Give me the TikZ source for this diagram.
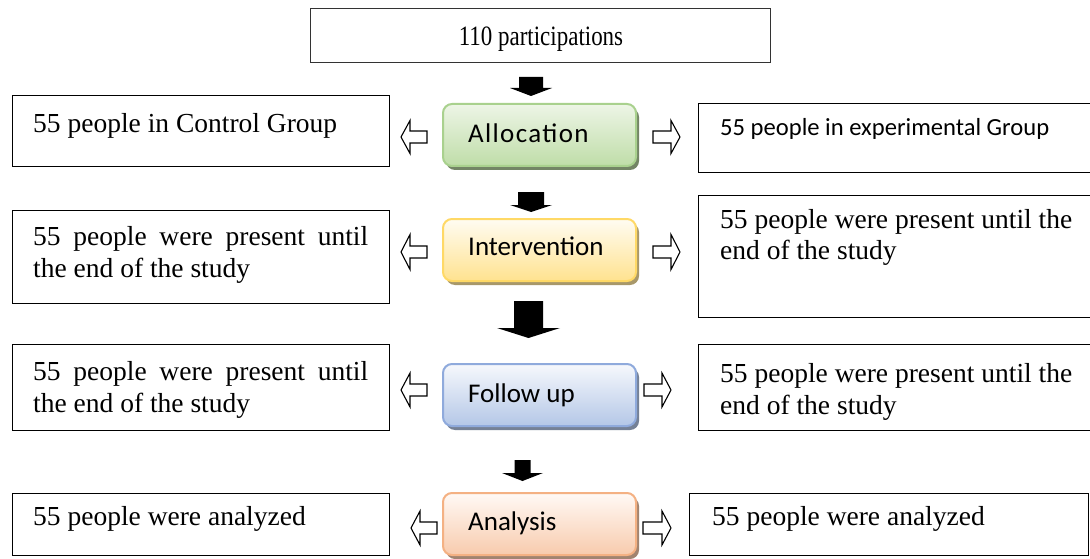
\documentclass[tikz,border=0pt]{standalone}
\usepackage{fontspec}
\setmainfont{Liberation Serif}
\newfontfamily\calfont{Carlito}
\newfontfamily\calwide[LetterSpace=5]{Carlito}
\usetikzlibrary{shadows}
\definecolor{gBorder}{HTML}{A9D18E}
\definecolor{gTop}{HTML}{EDF5E6}
\definecolor{gBot}{HTML}{BFDDA8}
\definecolor{yBorder}{HTML}{FFD966}
\definecolor{yTop}{HTML}{FFFCF2}
\definecolor{yBot}{HTML}{FFE28F}
\definecolor{bBorder}{HTML}{8FAADC}
\definecolor{bTop}{HTML}{F6F8FC}
\definecolor{bBot}{HTML}{B4C7E7}
\definecolor{oBorder}{HTML}{F4B183}
\definecolor{oTop}{HTML}{FFF9F5}
\definecolor{oBot}{HTML}{F8CBAD}
\newcommand{\downarr}[6]{%
  \fill[black] ({#1-#5},#2) -- ({#1+#5},#2) -- ({#1+#5},#3) -- ({#1+#6},#3) -- (#1,#4) -- ({#1-#6},#3) -- ({#1-#5},#3) -- cycle;}
\newcommand{\leftarr}[4]{%
  \draw[hollowarr] (#1,#3) -- ({#1+9},{#3-#4}) -- ({#1+9},{#3-6}) -- (#2,{#3-6}) -- (#2,{#3+6}) -- ({#1+9},{#3+6}) -- ({#1+9},{#3+#4}) -- cycle;}
\newcommand{\rightarr}[4]{%
  \draw[hollowarr] (#2,#3) -- ({#2-9},{#3-#4}) -- ({#2-9},{#3-6}) -- (#1,{#3-6}) -- (#1,{#3+6}) -- ({#2-9},{#3+6}) -- ({#2-9},{#3+#4}) -- cycle;}
\tikzset{
  sidebox/.style={draw=black, line width=1.3pt, inner sep=0pt, anchor=north west},
  topbox/.style={draw=black!80, line width=0.8pt, inner sep=0pt, anchor=north west},
  serif/.style={inner sep=0pt, anchor=base west, font=\fontsize{27.5}{32}\selectfont},
  sanslbl/.style={inner sep=0pt, anchor=base west, font=\calfont\fontsize{27}{32}\selectfont},
  cbox/.style={rounded corners=9pt, line width=2pt, inner sep=0pt, anchor=north west,
     minimum width=193pt, minimum height=62pt},
  hollowarr/.style={draw=black, fill=white, line width=1.1pt, line join=miter},
}
\begin{document}
\begin{tikzpicture}[x=1pt,y=-1pt]
\useasboundingbox[fill=white] (0,0) rectangle (1090,559);

% top
\node[topbox, minimum width=460pt, minimum height=54pt] (top) at (310,8) {};
\node[inner sep=0pt, anchor=base, font=\fontsize{28}{32}\selectfont] (topt) at (541,46) {\scalebox{0.82}[1]{110 participations}};

% centre boxes
\node[cbox, draw=gBorder, top color=gTop, bottom color=gBot,
  drop shadow={shadow xshift=3pt, shadow yshift=-4pt, fill=black!40!gBot, opacity=1}] (alloc) at (442,103) {};
\node[sanslbl, font=\calwide\fontsize{27}{32}\selectfont] (alloct) at (468,143) {Allocation};

\node[cbox, draw=yBorder, top color=yTop, bottom color=yBot,
  drop shadow={shadow xshift=3pt, shadow yshift=-4pt, fill=black!30!yBot!80!gray, opacity=1}] (interv) at (442,218) {};
\node[sanslbl] (intervt) at (468,255) {Intervention};

\node[cbox, draw=bBorder, top color=bTop, bottom color=bBot,
  drop shadow={shadow xshift=3pt, shadow yshift=-4pt, fill=black!35!bBot, opacity=1}] (follow) at (442,363) {};
\node[sanslbl] (followt) at (468,402) {Follow up};

\node[cbox, draw=oBorder, top color=oTop, bottom color=oBot,
  drop shadow={shadow xshift=3pt, shadow yshift=-4pt, fill=black!35!oBot, opacity=1}] (anal) at (442,492) {};
\node[sanslbl] (analt) at (468,530) {Analysis};

% left boxes
\node[sidebox, minimum width=377pt, minimum height=71pt] (L1) at (12,95) {};
\node[serif] (L1t) at (33,133) {55 people in Control Group};
\node[sidebox, minimum width=377pt, minimum height=93pt] (L2) at (12,210) {};
\node[serif] (L2t) at (33,245) {\parbox[t]{340pt}{\makebox[335pt][s]{55 people were present until}\\the end of the study}};
\node[sidebox, minimum width=377pt, minimum height=86pt] (L3) at (12,344) {};
\node[serif] (L3t) at (33,380) {\parbox[t]{340pt}{\makebox[335pt][s]{55 people were present until}\\the end of the study}};
\node[sidebox, minimum width=377pt, minimum height=62pt] (L4) at (12,493) {};
\node[serif] (L4t) at (33,525) {55 people were analyzed};

% right boxes
\node[sidebox, minimum width=400pt, minimum height=69pt] (R1) at (698,103) {};
\node[inner sep=0pt, anchor=base west, font=\calfont\fontsize{24.6}{30}\selectfont] (R1t) at (720,136) {55 people in experimental Group};
\node[sidebox, minimum width=400pt, minimum height=122pt] (R2) at (698,195) {};
\node[serif] (R2t) at (720,228) {\parbox[t]{360pt}{55 people were present until the\\end of the study}};
\node[sidebox, minimum width=400pt, minimum height=86pt] (R3) at (698,344) {};
\node[serif] (R3t) at (720,382) {\parbox[t]{360pt}{55 people were present until the\\end of the study}};
\node[sidebox, minimum width=399pt, minimum height=62pt] (R4) at (689,493) {};
\node[serif] (R4t) at (712,525) {55 people were analyzed};

% black down arrows
\downarr{531}{77}{88}{96}{12}{21}
\downarr{531}{192}{205}{212}{13}{21}
\downarr{528.5}{301}{328}{338}{14.5}{31.5}
\downarr{522.5}{460}{473}{481}{8}{20.5}

% hollow side arrows
\leftarr{401}{427}{137}{16.5}
\rightarr{653}{680}{137}{16.5}
\leftarr{401}{427}{252}{17.5}
\rightarr{653}{680}{252}{17.5}
\leftarr{401}{427}{390}{17}
\rightarr{644}{671}{390}{17}
\leftarr{411}{437}{528}{17}
\rightarr{643}{671}{528}{17}
\end{tikzpicture}
\end{document}
